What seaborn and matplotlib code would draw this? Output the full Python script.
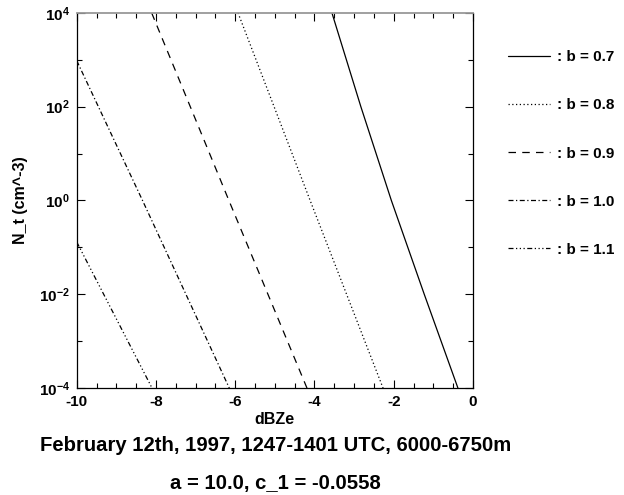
import numpy as np
import pandas as pd
import matplotlib
matplotlib.use("Agg")
import matplotlib.pyplot as plt
from matplotlib.ticker import FixedLocator, MultipleLocator, NullFormatter
import seaborn as sns

# values (dBZe vs N_t)
dbz_b07 = [-3.56, -2.83, -2.06, -1.23, -0.38]
nt_b07 = [1e4, 1e2, 1.0, 1e-2, 1e-4]
dbz_b08 = [-5.93, -4.11, -2.27]
nt_b08 = [1e4, 1.0, 1e-4]
dbz_b09 = [-8.11, -6.16, -4.19]
nt_b09 = [1e4, 1.0, 1e-4]
dbz_b10 = [-10.0, -8.34, -6.15]
nt_b10 = [955, 1.0, 1e-4]
dbz_b11 = [-10.0, -8.10]
nt_b11 = [0.13, 1e-4]

labels = [": b = 0.7", ": b = 0.8", ": b = 0.9", ": b = 1.0", ": b = 1.1"]
xticks = [-10, -8, -6, -4, -2, 0]
yticks = [1e-4, 1e-2, 1e0, 1e2, 1e4]
ytick_labels = [r"$\mathbf{10^{-4}}$", r"$\mathbf{10^{-2}}$", r"$\mathbf{10^{0}}$",
                r"$\mathbf{10^{2}}$", r"$\mathbf{10^{4}}$"]

sns.set_style("ticks")
plt.rcParams["font.family"] = ["Liberation Sans", "DejaVu Sans"]
plt.rcParams["font.weight"] = "bold"
plt.rcParams["text.color"] = "black"
plt.rcParams["axes.labelcolor"] = "black"
plt.rcParams["xtick.color"] = "black"
plt.rcParams["ytick.color"] = "black"
plt.rcParams["mathtext.fontset"] = "custom"
plt.rcParams["mathtext.bf"] = "Liberation Sans:bold"
plt.rcParams["mathtext.rm"] = "Liberation Sans:bold"

fig = plt.figure(figsize=(6.24, 4.95), dpi=100)
ax = fig.add_axes([0.123, 0.216, 0.635, 0.758])

series = [(dbz_b07, nt_b07, "-"),
          (dbz_b08, nt_b08, (0, (1, 2))),
          (dbz_b09, nt_b09, (0, (6, 5))),
          (dbz_b10, nt_b10, (0, (4, 2, 1, 2))),
          (dbz_b11, nt_b11, (0, (4, 2, 1, 2, 1, 2, 1, 2)))]

for (xs, ys, ls), lab in zip(series, labels):
    sns.lineplot(x=xs, y=ys, ax=ax, color="black", linestyle=ls, linewidth=0.9, label=lab)

ax.set_yscale("log")
ax.set_xlim(-10, 0)
ax.set_ylim(1e-4, 1e4)

ax.xaxis.set_major_locator(FixedLocator(xticks))
ax.xaxis.set_minor_locator(MultipleLocator(0.5))
ax.set_xticklabels([str(t) for t in xticks])
ax.yaxis.set_major_locator(FixedLocator(yticks))
ax.yaxis.set_minor_locator(FixedLocator([1e-3, 1e-1, 1e1, 1e3]))
ax.yaxis.set_minor_formatter(NullFormatter())
ax.set_yticklabels(ytick_labels)

ax.tick_params(which="both", direction="in", top=True, right=True, width=0.8, colors="black")
ax.tick_params(which="major", length=6, labelsize=11, pad=5)
ax.tick_params(which="minor", length=3.5)
for s in ["left", "right", "bottom"]:
    ax.spines[s].set_linewidth(0.9)
    ax.spines[s].set_color("black")
ax.spines["top"].set_color("0.6")
ax.spines["top"].set_linewidth(1.3)

ax.set_xlabel("dBZe", fontsize=11.5, fontweight="bold", labelpad=2)
ax.set_ylabel("N_t (cm^-3)", fontsize=11.5, fontweight="bold")
ax.yaxis.set_label_coords(-0.123, 0.5)

ax.legend(loc="upper left", bbox_to_anchor=(0.792, 0.926), bbox_transform=fig.transFigure,
          frameon=False, handlelength=2.75, handletextpad=0.45, labelspacing=2.23,
          prop={"size": 11, "weight": "bold"})

fig.text(0.441, 0.101, "February 12th, 1997, 1247-1401 UTC, 6000-6750m",
         ha="center", va="center", fontsize=14.6, fontweight="bold")
fig.text(0.441, 0.024, "a = 10.0, c_1 = -0.0558",
         ha="center", va="center", fontsize=14.6, fontweight="bold")

fig.savefig("out.png", dpi=100)
